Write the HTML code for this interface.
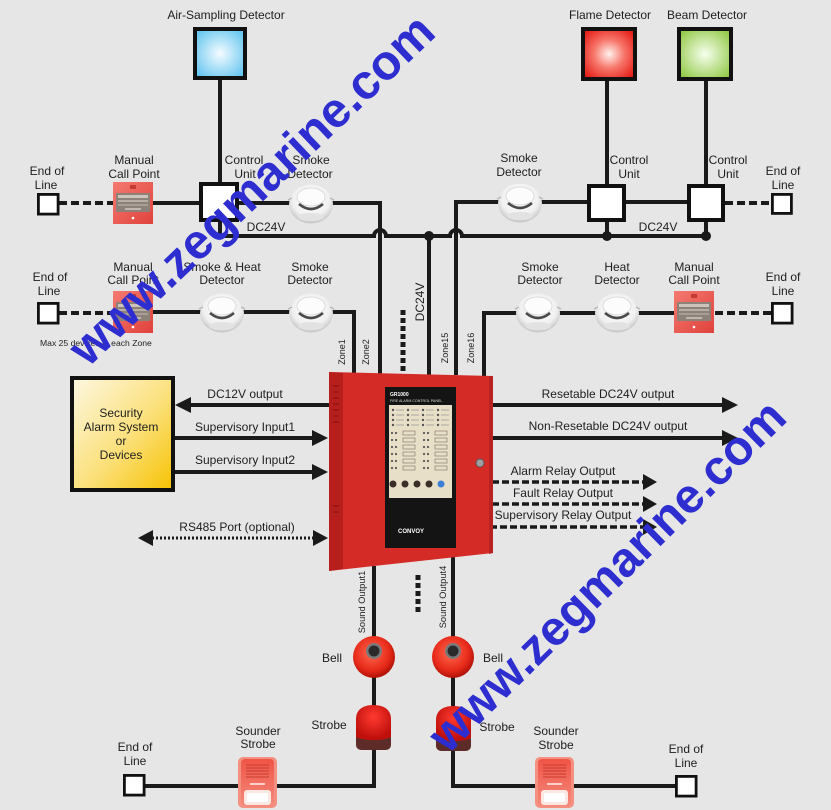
<!DOCTYPE html>
<html><head><meta charset="utf-8"><title>Fire Alarm System Diagram</title>
<style>
html,body{margin:0;padding:0;background:#e6e6e6;width:831px;height:810px;overflow:hidden}
svg{display:block}
text{font-family:"Liberation Sans",Arial,sans-serif}
</style></head><body>
<svg width="831" height="810" viewBox="0 0 831 810" xmlns="http://www.w3.org/2000/svg">
<defs>
<radialGradient id="gB" cx="0.5" cy="0.5" r="0.65"><stop offset="0" stop-color="#f4fcff"/><stop offset="1" stop-color="#5cc2ef"/></radialGradient>
<radialGradient id="gR" cx="0.5" cy="0.5" r="0.65"><stop offset="0" stop-color="#fff2ee"/><stop offset="0.45" stop-color="#f7766a"/><stop offset="1" stop-color="#e3140e"/></radialGradient>
<radialGradient id="gG" cx="0.5" cy="0.5" r="0.65"><stop offset="0" stop-color="#f6ffee"/><stop offset="1" stop-color="#8dc63f"/></radialGradient>
<linearGradient id="gY" x1="0" y1="0" x2="1" y2="1"><stop offset="0" stop-color="#fdf8e2"/><stop offset="0.55" stop-color="#fbe07a"/><stop offset="1" stop-color="#f6c200"/></linearGradient>
<radialGradient id="gD" cx="0.5" cy="0.4" r="0.6"><stop offset="0" stop-color="#ffffff"/><stop offset="0.7" stop-color="#f0f0f0"/><stop offset="1" stop-color="#c4c4c4"/></radialGradient>
<linearGradient id="gM" x1="0" y1="0" x2="1" y2="1"><stop offset="0" stop-color="#f47a70"/><stop offset="1" stop-color="#e0423c"/></linearGradient>
<radialGradient id="gBell" cx="0.45" cy="0.4" r="0.6"><stop offset="0" stop-color="#ff6a50"/><stop offset="0.7" stop-color="#e82a1a"/><stop offset="1" stop-color="#b01208"/></radialGradient>
<radialGradient id="gSt" cx="0.5" cy="0.35" r="0.6"><stop offset="0" stop-color="#ff3a30"/><stop offset="1" stop-color="#c0100c"/></radialGradient>
<linearGradient id="gSS" x1="0" y1="0" x2="0" y2="1"><stop offset="0" stop-color="#ef5446"/><stop offset="1" stop-color="#f58a7c"/></linearGradient>

<g id="det">
  <ellipse cx="0" cy="1" rx="22" ry="19.5" fill="url(#gD)"/>
  <ellipse cx="0" cy="-6" rx="14" ry="9" fill="#fcfcfc" stroke="#d6d6d6" stroke-width="0.8"/>
  <path d="M-12,1 Q0,11 12,1" fill="none" stroke="#4a4a4a" stroke-width="2.6"/>
  <path d="M-19,-5 l-4,2 M19,-5 l4,2" stroke="#b8b8b8" stroke-width="1.5"/>
  <ellipse cx="0" cy="14" rx="13" ry="4" fill="#e2e2e2"/>
</g>
<g id="mcp">
  <rect x="0" y="0" width="40" height="42" fill="url(#gM)"/>
  <rect x="17" y="3" width="6" height="4" fill="#c63a34"/>
  <rect x="3" y="11" width="34" height="19" fill="#8d827a"/>
  <rect x="5" y="13" width="30" height="3" fill="#cdc4bc"/>
  <rect x="5" y="18" width="30" height="2" fill="#b8aea6"/>
  <rect x="5" y="22" width="30" height="2" fill="#a89e96"/>
  <rect x="12" y="26" width="16" height="2" fill="#c0b6ae"/>
  <circle cx="20" cy="36" r="1.3" fill="#fff"/>
</g>
<g id="bell">
  <circle r="21" fill="url(#gBell)"/>
  <circle cx="0" cy="-6" r="8" fill="#7a7a7a"/>
  <circle cx="0" cy="-6" r="5.5" fill="#2a2a2a"/>
</g>
<g id="strobe">
  <rect x="1" y="28" width="35" height="17" rx="5" fill="#5e2c28"/>
  <path d="M1,32 L1,14 C1,4 9,0 18.5,0 C28,0 36,4 36,14 L36,32 C30,36 7,36 1,32 Z" fill="url(#gSt)"/>
</g>
<g id="ss">
  <rect x="0" y="0" width="39" height="51" rx="5" fill="#f3907f"/>
  <rect x="3" y="2" width="33" height="47" rx="4" fill="url(#gSS)"/>
  <path d="M8,8H31M8,11H31M8,14H31M8,17H31M8,20H31" stroke="#c83c30" stroke-width="1"/>
  <rect x="12" y="26" width="15" height="2" fill="#fbd0c8"/>
  <rect x="6" y="33" width="27" height="15" rx="3" fill="#fbe8e2"/>
  <rect x="9" y="36" width="21" height="9" rx="2" fill="#ffffff"/>
</g>
</defs>

<rect x="0" y="0" width="831" height="810" fill="#e6e6e6"/>

<!-- ===== wires ===== -->
<g fill="none" stroke="#1a1a1a" stroke-width="4">
  <path d="M220,80 V184"/>
  <path d="M607,80 V184"/>
  <path d="M706,80 V184"/>
  <path d="M150,203 H380 V374"/>
  <path d="M456,375 V202 H690"/>
  <path d="M220,220 V236 H374 A6,6 0 0 1 386,236 H450 A6,6 0 0 1 462,236 H706 V220"/>
  <path d="M607,220 V236"/>
  <path d="M429,236 V375"/>
  <path d="M150,312 H354 V374"/>
  <path d="M484,376 V313 H678"/>
  <path d="M374,566 V786 H145"/>
  <path d="M453,557 V786 H675"/>
</g>
<g fill="#1a1a1a">
  <circle cx="429" cy="236" r="5"/>
  <circle cx="607" cy="236" r="5"/>
  <circle cx="706" cy="236" r="5"/>
</g>
<!-- dashed EOL lines -->
<g fill="none" stroke="#1a1a1a" stroke-width="4" stroke-dasharray="8 4">
  <path d="M59,203 H114"/>
  <path d="M725,203 H771"/>
  <path d="M59,313 H114"/>
  <path d="M715,313 H771"/>
</g>
<g fill="none" stroke="#1a1a1a" stroke-width="5" stroke-dasharray="5 3">
  <path d="M403,310 V372"/>
  <path d="M418,575 V612"/>
</g>

<!-- ===== detector boxes ===== -->
<rect x="195" y="29" width="50" height="49" fill="url(#gB)" stroke="#111" stroke-width="4"/>
<rect x="583" y="29" width="52" height="50" fill="url(#gR)" stroke="#111" stroke-width="4"/>
<rect x="679" y="29" width="52" height="50" fill="url(#gG)" stroke="#111" stroke-width="4"/>

<!-- control units -->
<rect x="201" y="184" width="36" height="36" fill="#fff" stroke="#111" stroke-width="4"/>
<rect x="589" y="186" width="35" height="34" fill="#fff" stroke="#111" stroke-width="4"/>
<rect x="689" y="186" width="34" height="34" fill="#fff" stroke="#111" stroke-width="4"/>

<!-- EOL boxes -->
<g fill="#fff" stroke="#111" stroke-width="2.8">
  <rect x="38.4" y="194.4" width="19.7" height="19.7"/>
  <rect x="772.4" y="194.4" width="19" height="19"/>
  <rect x="38.4" y="303.4" width="19.7" height="19.7"/>
  <rect x="772.4" y="303.4" width="19.7" height="19.7"/>
  <rect x="124.4" y="775.4" width="19.7" height="19.7"/>
  <rect x="676.4" y="776.4" width="19.7" height="19.7"/>
</g>

<!-- devices -->
<use href="#mcp" x="113" y="182"/>
<use href="#mcp" x="113" y="291"/>
<use href="#mcp" x="674" y="291"/>
<use href="#det" x="311" y="203"/>
<use href="#det" x="520" y="202"/>
<use href="#det" x="222" y="312"/>
<use href="#det" x="311" y="312"/>
<use href="#det" x="538" y="312"/>
<use href="#det" x="617" y="312"/>
<use href="#bell" x="374" y="657"/>
<use href="#bell" x="453" y="657"/>
<use href="#strobe" x="355" y="705"/>
<use href="#strobe" x="435" y="706"/>
<use href="#ss" x="238" y="757"/>
<use href="#ss" x="535" y="757"/>

<!-- security box -->
<rect x="72" y="378" width="101" height="112" fill="url(#gY)" stroke="#111" stroke-width="4"/>

<!-- arrows -->
<g stroke="#1a1a1a" stroke-width="4" fill="none">
  <path d="M190,405 H329"/>
  <path d="M175,438 H314"/>
  <path d="M175,472 H314"/>
  <path d="M492,405 H724"/>
  <path d="M492,438 H724"/>
</g>
<g stroke="#1a1a1a" stroke-width="3.5" fill="none" stroke-dasharray="7 3">
  <path d="M492,482 H644"/>
  <path d="M492,504 H644"/>
  <path d="M490,527 H644"/>
</g>
<path d="M152,538 H314" stroke="#1a1a1a" stroke-width="3" stroke-dasharray="2 2" fill="none"/>
<g fill="#1a1a1a">
  <polygon points="175,405 191,397 191,413"/>
  <polygon points="312,430 328,438 312,446"/>
  <polygon points="312,464 328,472 312,480"/>
  <polygon points="138,538 153,530 153,546"/>
  <polygon points="313,530 328,538 313,546"/>
  <polygon points="722,397 738,405 722,413"/>
  <polygon points="722,430 738,438 722,446"/>
  <polygon points="643,474 657,482 643,490"/>
  <polygon points="643,496 657,504 643,512"/>
  <polygon points="643,519 657,527 643,535"/>
</g>

<!-- ===== control panel ===== -->
<polygon points="329,372 493,376 493,553 329,571" fill="#d52b27"/>
<polygon points="329,372 343,373 343,569 329,571" fill="#b71f1c"/>
<polygon points="489,376 493,376 493,553 489,554" fill="#b82320"/>
<g fill="#9a1714">
  <rect x="333" y="385" width="6" height="2"/><rect x="333" y="391" width="6" height="2"/>
  <rect x="333" y="397" width="6" height="2"/><rect x="333" y="403" width="6" height="2"/>
  <rect x="333" y="409" width="6" height="2"/><rect x="333" y="415" width="6" height="2"/>
  <rect x="333" y="421" width="6" height="2"/><rect x="333" y="505" width="6" height="2"/>
  <rect x="333" y="511" width="6" height="2"/>
</g>
<rect x="385" y="387" width="71" height="161" fill="#141414"/>
<rect x="389" y="405" width="63" height="93" fill="#e8dfc8"/>
<text x="390" y="396" font-size="5" font-weight="bold" fill="#ffffff">GR1000</text>
<text x="390" y="402" font-size="3.6" fill="#dddddd">FIRE ALARM CONTROL PANEL</text>
<g fill="#555">
  <circle cx="393" cy="410" r="1.2"/><circle cx="408" cy="410" r="1.2"/><circle cx="423" cy="410" r="1.2"/><circle cx="438" cy="410" r="1.2"/>
  <circle cx="393" cy="415" r="1.2"/><circle cx="408" cy="415" r="1.2"/><circle cx="423" cy="415" r="1.2"/><circle cx="438" cy="415" r="1.2"/>
  <circle cx="393" cy="420" r="1.2"/><circle cx="408" cy="420" r="1.2"/><circle cx="423" cy="420" r="1.2"/><circle cx="438" cy="420" r="1.2"/>
  <circle cx="393" cy="425" r="1.2"/><circle cx="408" cy="425" r="1.2"/><circle cx="423" cy="425" r="1.2"/><circle cx="438" cy="425" r="1.2"/>
</g>
<g stroke="#999" stroke-width="0.8">
  <path d="M396,410h8M411,410h8M426,410h8M441,410h8M396,415h8M411,415h8M426,415h8M441,415h8M396,420h8M411,420h8M426,420h8M441,420h8M396,425h8M411,425h8M426,425h8M441,425h8"/>
</g>
<g fill="#555">
  <circle cx="392" cy="433" r="1.1"/><circle cx="396" cy="433" r="1.1"/><circle cx="424" cy="433" r="1.1"/><circle cx="428" cy="433" r="1.1"/>
  <circle cx="392" cy="440" r="1.1"/><circle cx="396" cy="440" r="1.1"/><circle cx="424" cy="440" r="1.1"/><circle cx="428" cy="440" r="1.1"/>
  <circle cx="392" cy="447" r="1.1"/><circle cx="396" cy="447" r="1.1"/><circle cx="424" cy="447" r="1.1"/><circle cx="428" cy="447" r="1.1"/>
  <circle cx="392" cy="454" r="1.1"/><circle cx="396" cy="454" r="1.1"/><circle cx="424" cy="454" r="1.1"/><circle cx="428" cy="454" r="1.1"/>
  <circle cx="392" cy="461" r="1.1"/><circle cx="396" cy="461" r="1.1"/><circle cx="424" cy="461" r="1.1"/><circle cx="428" cy="461" r="1.1"/>
  <circle cx="392" cy="468" r="1.1"/><circle cx="396" cy="468" r="1.1"/><circle cx="424" cy="468" r="1.1"/><circle cx="428" cy="468" r="1.1"/>
</g>
<g fill="none" stroke="#8a8070" stroke-width="0.7">
  <rect x="403" y="431" width="12" height="4"/><rect x="435" y="431" width="12" height="4"/>
  <rect x="403" y="438" width="12" height="4"/><rect x="435" y="438" width="12" height="4"/>
  <rect x="403" y="445" width="12" height="4"/><rect x="435" y="445" width="12" height="4"/>
  <rect x="403" y="452" width="12" height="4"/><rect x="435" y="452" width="12" height="4"/>
  <rect x="403" y="459" width="12" height="4"/><rect x="435" y="459" width="12" height="4"/>
  <rect x="403" y="466" width="12" height="4"/><rect x="435" y="466" width="12" height="4"/>
</g>
<g>
  <circle cx="393" cy="484" r="3.5" fill="#3b2e26"/>
  <circle cx="405" cy="484" r="3.5" fill="#3b2e26"/>
  <circle cx="417" cy="484" r="3.5" fill="#3b2e26"/>
  <circle cx="429" cy="484" r="3.5" fill="#3b2e26"/>
  <circle cx="441" cy="484" r="3.5" fill="#3d7fd6"/>
</g>
<text x="398" y="533" font-size="6" font-weight="bold" fill="#ffffff">CONVOY</text>
<circle cx="480" cy="463" r="4" fill="#a0a0a0" stroke="#5a5a5a" stroke-width="1"/>

<!-- ===== labels ===== -->
<g fill="#1e1e1e" font-size="12" text-anchor="middle">
  <text x="226" y="19">Air-Sampling Detector</text>
  <text x="610" y="19">Flame Detector</text>
  <text x="707" y="19">Beam Detector</text>

  <text x="47" y="175">End of</text><text x="46" y="189">Line</text>
  <text x="134" y="164">Manual</text><text x="134" y="178">Call Point</text>
  <text x="244" y="164">Control</text><text x="245" y="178">Unit</text>
  <text x="311" y="164">Smoke</text><text x="310" y="178">Detector</text>
  <text x="266" y="231">DC24V</text>
  <text x="519" y="162">Smoke</text><text x="519" y="176">Detector</text>
  <text x="629" y="164">Control</text><text x="629" y="178">Unit</text>
  <text x="728" y="164">Control</text><text x="728" y="178">Unit</text>
  <text x="783" y="175">End of</text><text x="783" y="189">Line</text>
  <text x="658" y="231">DC24V</text>

  <text x="50" y="281">End of</text><text x="49" y="295">Line</text>
  <text x="133" y="271">Manual</text><text x="133" y="284">Call Point</text>
  <text x="222" y="271">Smoke &amp; Heat</text><text x="222" y="284">Detector</text>
  <text x="310" y="271">Smoke</text><text x="310" y="284">Detector</text>
  <text x="540" y="271">Smoke</text><text x="540" y="284">Detector</text>
  <text x="617" y="271">Heat</text><text x="617" y="284">Detector</text>
  <text x="694" y="271">Manual</text><text x="694" y="284">Call Point</text>
  <text x="783" y="281">End of</text><text x="783" y="295">Line</text>

  <text x="121" y="417">Security</text>
  <text x="121" y="431">Alarm System</text>
  <text x="121" y="445">or</text>
  <text x="121" y="459">Devices</text>

  <text x="245" y="398">DC12V output</text>
  <text x="245" y="431">Supervisory Input1</text>
  <text x="245" y="464">Supervisory Input2</text>
  <text x="237" y="531">RS485 Port (optional)</text>
  <text x="608" y="398">Resetable DC24V output</text>
  <text x="608" y="430">Non-Resetable DC24V output</text>
  <text x="563" y="475">Alarm Relay Output</text>
  <text x="563" y="497">Fault Relay Output</text>
  <text x="563" y="519">Supervisory Relay Output</text>

  <text x="332" y="662">Bell</text>
  <text x="493" y="662">Bell</text>
  <text x="329" y="729">Strobe</text>
  <text x="497" y="731">Strobe</text>
  <text x="258" y="735">Sounder</text><text x="258" y="748">Strobe</text>
  <text x="556" y="735">Sounder</text><text x="556" y="749">Strobe</text>
  <text x="135" y="751">End of</text><text x="135" y="765">Line</text>
  <text x="686" y="753">End of</text><text x="686" y="767">Line</text>
</g>
<text x="40" y="346" font-size="8.6" fill="#1e1e1e">Max 25 devices in each Zone</text>

<g fill="#1e1e1e" font-size="9" text-anchor="middle">
  <text transform="translate(342,352) rotate(-90)" x="0" y="3">Zone1</text>
  <text transform="translate(366,352) rotate(-90)" x="0" y="3">Zone2</text>
  <text transform="translate(445,348) rotate(-90)" x="0" y="3">Zone15</text>
  <text transform="translate(471,348) rotate(-90)" x="0" y="3">Zone16</text>
  <text transform="translate(362,602) rotate(-90)" x="0" y="3" font-size="9.3">Sound Output1</text>
  <text transform="translate(443,597) rotate(-90)" x="0" y="3" font-size="9.3">Sound Output4</text>
  <text transform="translate(420,302) rotate(-90)" x="0" y="4" font-size="12">DC24V</text>
</g>

<!-- ===== watermarks ===== -->
<g fill="#2e2ed0" font-weight="bold">
  <text transform="translate(88,368) rotate(-43.6)" x="0" y="0" font-size="49">www.zegmarine.com</text>
  <text transform="translate(448,755) rotate(-44.5)" x="0" y="0" font-size="48.5">www.zegmarine.com</text>
</g>
</svg>
</body></html>
